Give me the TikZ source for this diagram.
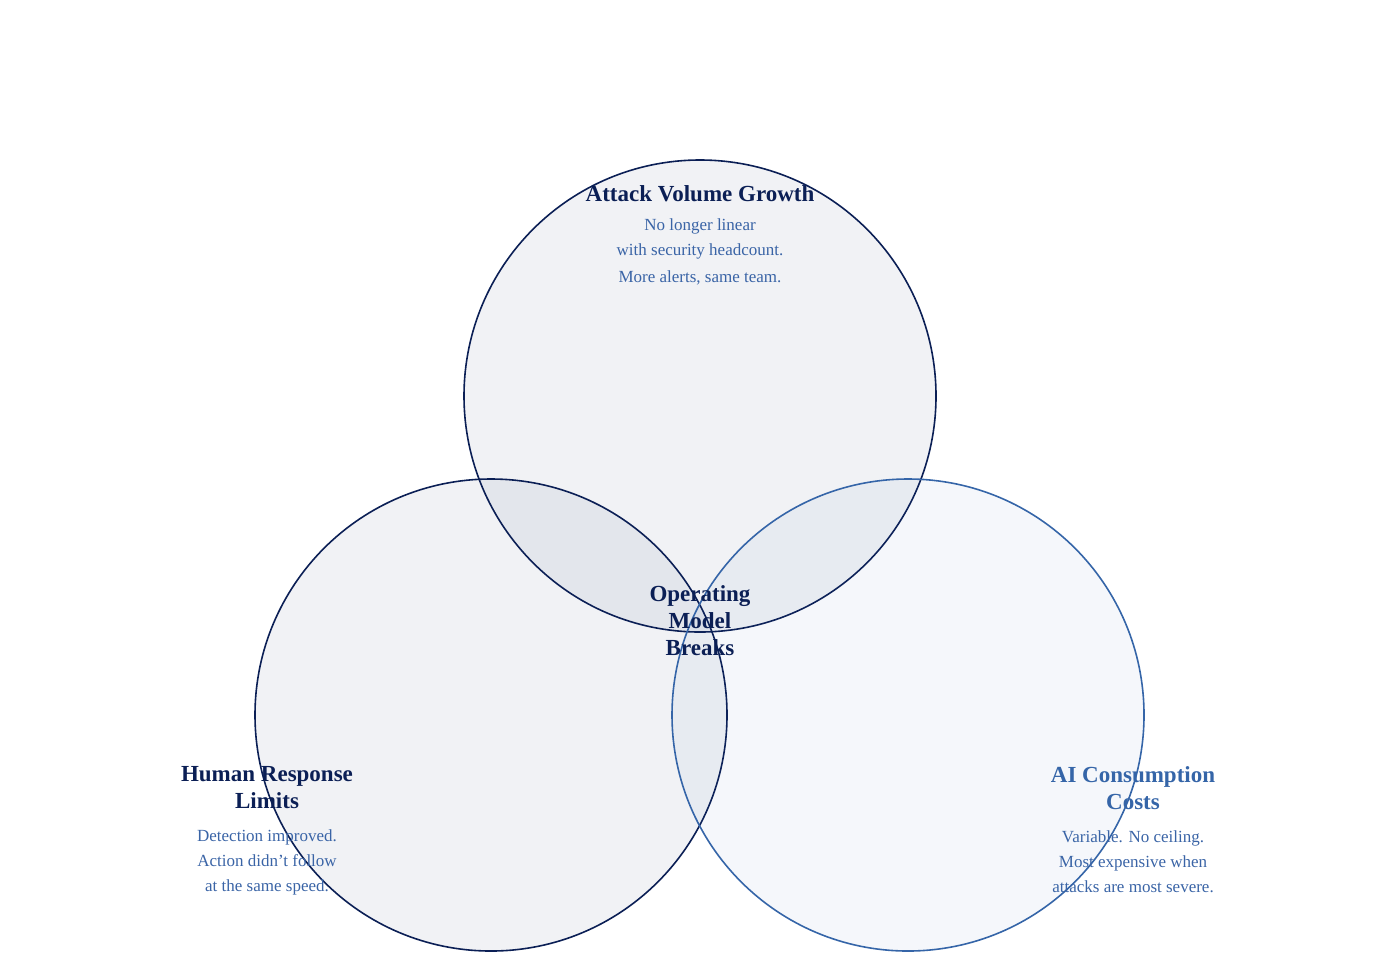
\documentclass[tikz,border=0pt]{standalone}
\usepackage{fontspec}
\setmainfont{Liberation Serif}
\definecolor{navy}{HTML}{0B1F55}
\definecolor{mblue}{HTML}{3565A8}
\definecolor{tblue}{HTML}{3A64A6}
\begin{document}
\begin{tikzpicture}[x=0.5pt,y=-0.5pt,
  circ/.style={line width=0.8pt,fill opacity=0.06},
  ttl/.style={font=\bfseries\fontsize{11.5}{13.5}\selectfont,align=center},
  body/.style={font=\fontsize{8.5}{12.5}\selectfont,text=tblue,align=center}]
\useasboundingbox (0,0) rectangle (1400,970);
\draw[circ,draw=navy,fill=navy] (700,396) circle (236);
\draw[circ,draw=navy,fill=navy] (491,715) circle (236);
\draw[circ,draw=mblue,fill=mblue,fill opacity=0.05] (908,715) circle (236);
\node[ttl,text=navy] (t1) at (700,194) {Attack Volume Growth};
\node[body] (b1) at (700,252) {No longer linear\\with security headcount.\\[1pt]More alerts, same team.};
\node[ttl,text=navy] (t2) at (267,788) {Human Response\\Limits};
\node[body] (b2) at (267,862) {Detection improved.\\Action didn't follow\\at the same speed.};
\node[ttl,text=mblue] (t3) at (1133,788) {AI Consumption\\Costs};
\node[body] (b3) at (1133,862) {Variable. No ceiling.\\Most expensive when\\attacks are most severe.};
\node[ttl,text=navy] (c) at (700,621) {Operating\\Model\\Breaks};
\end{tikzpicture}
\end{document}
